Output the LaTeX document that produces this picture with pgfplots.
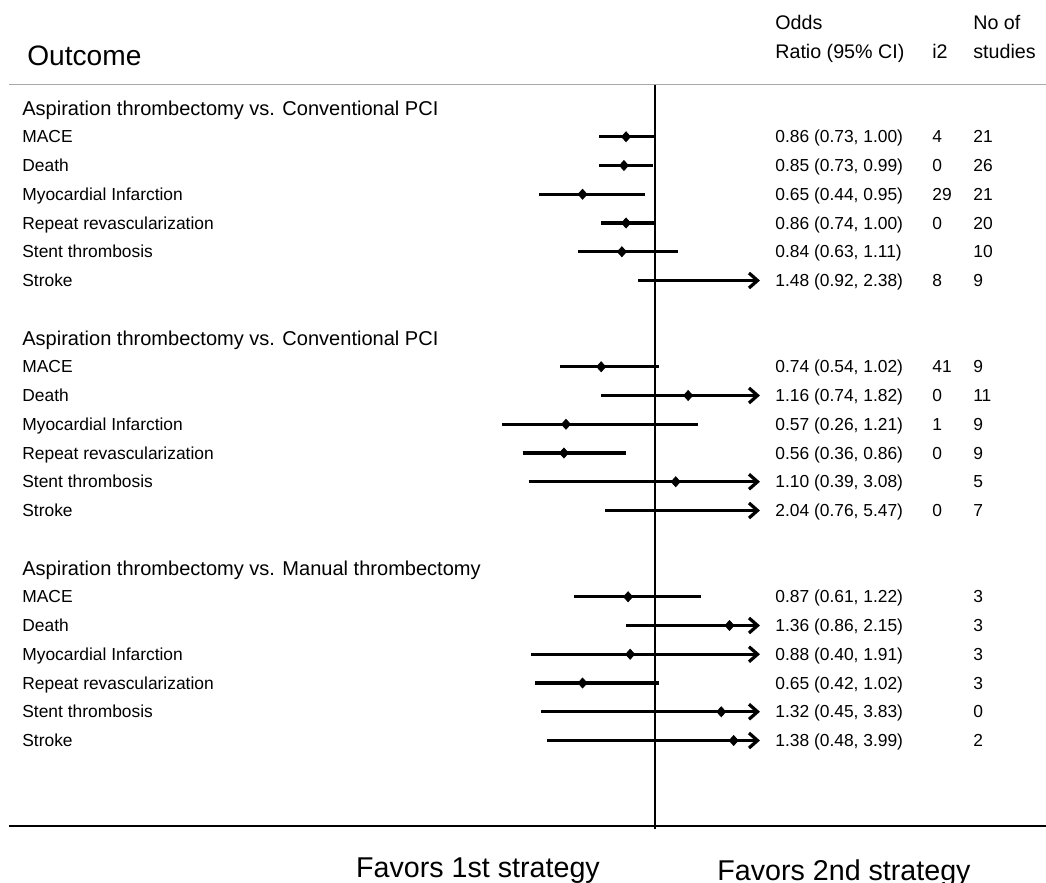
\documentclass[border=0pt]{standalone}
\usepackage{fontspec}
\setmainfont{Liberation Sans}
\usepackage{pgfplots}
\pgfplotsset{compat=1.18}
\usetikzlibrary{arrows.meta}
\newcommand{\fs}[1]{\fontsize{#1}{#1}\selectfont}
\definecolor{hdrline}{HTML}{A8A8A8}
\tikzset{
  lbl/.style={anchor=base west, inner sep=0pt, font=\fs{9.9}, yshift=-1.24mm},
  grp/.style={anchor=base west, inner sep=0pt, font=\fs{11.4}, yshift=-1.44mm},
  hdr/.style={anchor=base west, inner sep=0pt, font=\fs{11.2}},
}
\pgfplotsset{
  ci/.style={black, line width=0.65mm, forget plot},
  cia/.style={ci, -{Straight Barb[length=1.7mm,width=3.0mm]},
              x filter/.expression={x>1.507 ? 1.507 : x}},
}

\newcommand{\rowtxt}[5]{%
  \node[lbl] at (axis cs:-2.05797,#1) {#2};
  \node[lbl] at (axis cs:1.57971,#1) {#3};
  \node[lbl] at (axis cs:2.33816,#1) {#4};
  \node[lbl] at (axis cs:2.53623,#1) {#5};
}

\begin{document}
\begin{tikzpicture}
\begin{axis}[
  scale only axis, width=209.2mm, height=176.6mm,
  xmin=-2.164251, xmax=2.888889, ymin=0, ymax=883, y dir=reverse,
  axis lines=none, clip=false,
]
% frame lines
\addplot[hdrline, line width=0.3mm] coordinates {(-2.1208,84.5) (2.888889,84.5)};
\addplot[black, line width=0.38mm] coordinates {(-2.1208,826) (2.888889,826)};
\addplot[black, line width=0.4mm] coordinates {(1,85) (1,829)};

% Group 1: Aspiration thrombectomy vs. Conventional PCI
\addplot[ci]  coordinates {(0.73,136.75) (1.00,136.75)};
\addplot[ci]  coordinates {(0.73,165.5) (0.99,165.5)};
\addplot[ci]  coordinates {(0.44,194.25) (0.95,194.25)};
\addplot[ci]  coordinates {(0.74,223) (1.00,223)};
\addplot[ci]  coordinates {(0.63,251.75) (1.11,251.75)};
\addplot[cia] coordinates {(0.92,280.5) (2.38,280.5)};
% Group 2
\addplot[ci]  coordinates {(0.54,366.75) (1.02,366.75)};
\addplot[cia] coordinates {(0.74,395.5) (1.82,395.5)};
\addplot[ci]  coordinates {(0.26,424.25) (1.21,424.25)};
\addplot[ci]  coordinates {(0.36,453) (0.86,453)};
\addplot[cia] coordinates {(0.39,481.75) (3.08,481.75)};
\addplot[cia] coordinates {(0.76,510.5) (5.47,510.5)};
% Group 3
\addplot[ci]  coordinates {(0.61,596.75) (1.22,596.75)};
\addplot[cia] coordinates {(0.86,625.5) (2.15,625.5)};
\addplot[cia] coordinates {(0.40,654.25) (1.91,654.25)};
\addplot[ci]  coordinates {(0.42,683) (1.02,683)};
\addplot[cia] coordinates {(0.45,711.75) (3.83,711.75)};
\addplot[cia] coordinates {(0.48,740.5) (3.99,740.5)};

% point estimates
\addplot[only marks, mark=diamond*, mark size=1.0mm, black,
         mark options={xscale=1.2},
         restrict x to domain=0:1.45] table {
x y
0.86 136.75
0.85 165.5
0.65 194.25
0.86 223
0.84 251.75
1.48 280.5
0.74 366.75
1.16 395.5
0.57 424.25
0.56 453
1.10 481.75
2.04 510.5
0.87 596.75
1.36 625.5
0.88 654.25
0.65 683
1.32 711.75
1.38 740.5
};

% headers
\node[anchor=base west, inner sep=0pt, font=\fs{16}] at (axis cs:-2.03382,65.7) {Outcome};
\node[hdr] at (axis cs:1.57971,30) {Odds};
\node[hdr] at (axis cs:1.57971,59) {Ratio (95\% CI)};
\node[hdr] at (axis cs:2.33816,59) {i2};
\node[hdr] at (axis cs:2.53623,30) {No of};
\node[hdr] at (axis cs:2.53623,59) {studies};

% group headers
\node[grp] at (axis cs:-2.05797,108) {Aspiration thrombectomy vs. Conventional PCI};
\node[grp] at (axis cs:-2.05797,338) {Aspiration thrombectomy vs. Conventional PCI};
\node[grp] at (axis cs:-2.05797,568) {Aspiration thrombectomy vs. Manual thrombectomy};

\rowtxt{136.75}{MACE}{0.86 (0.73, 1.00)}{4}{21}
\rowtxt{165.5}{Death}{0.85 (0.73, 0.99)}{0}{26}
\rowtxt{194.25}{Myocardial Infarction}{0.65 (0.44, 0.95)}{29}{21}
\rowtxt{223}{Repeat revascularization}{0.86 (0.74, 1.00)}{0}{20}
\rowtxt{251.75}{Stent thrombosis}{0.84 (0.63, 1.11)}{}{10}
\rowtxt{280.5}{Stroke}{1.48 (0.92, 2.38)}{8}{9}

\rowtxt{366.75}{MACE}{0.74 (0.54, 1.02)}{41}{9}
\rowtxt{395.5}{Death}{1.16 (0.74, 1.82)}{0}{11}
\rowtxt{424.25}{Myocardial Infarction}{0.57 (0.26, 1.21)}{1}{9}
\rowtxt{453}{Repeat revascularization}{0.56 (0.36, 0.86)}{0}{9}
\rowtxt{481.75}{Stent thrombosis}{1.10 (0.39, 3.08)}{}{5}
\rowtxt{510.5}{Stroke}{2.04 (0.76, 5.47)}{0}{7}

\rowtxt{596.75}{MACE}{0.87 (0.61, 1.22)}{}{3}
\rowtxt{625.5}{Death}{1.36 (0.86, 2.15)}{}{3}
\rowtxt{654.25}{Myocardial Infarction}{0.88 (0.40, 1.91)}{}{3}
\rowtxt{683}{Repeat revascularization}{0.65 (0.42, 1.02)}{}{3}
\rowtxt{711.75}{Stent thrombosis}{1.32 (0.45, 3.83)}{}{0}
\rowtxt{740.5}{Stroke}{1.38 (0.48, 3.99)}{}{2}

% footer
\node[anchor=base, inner sep=0pt, font=\fs{16.3}] at (axis cs:0.14493,877) {Favors 1st strategy};
\node[anchor=base, inner sep=0pt, font=\fs{16.3}] at (axis cs:1.91304,880) {Favors 2nd strategy};
\end{axis}
\pgfresetboundingbox
\path (current axis.south west) rectangle (current axis.north east);
\end{tikzpicture}
\end{document}
